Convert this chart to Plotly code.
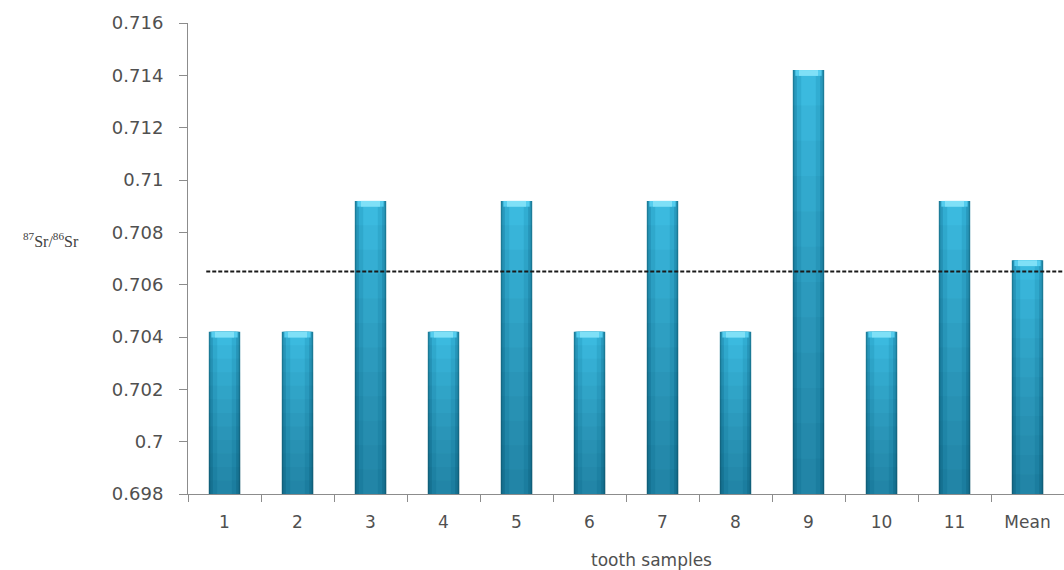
import plotly.graph_objects as go

# Strontium isotope ratio per tooth sample, plus the mean
categories = ["1", "2", "3", "4", "5", "6", "7", "8", "9", "10", "11", "Mean"]
ratios = [0.7042, 0.7042, 0.7092, 0.7042, 0.7092, 0.7042,
          0.7092, 0.7042, 0.7142, 0.7042, 0.7092, 0.70693]
reference_ratio = 0.7065

y_ticks = [0.698, 0.700, 0.702, 0.704, 0.706, 0.708, 0.710, 0.712, 0.714, 0.716]
y_tick_text = ["0.698", "0.7", "0.702", "0.704", "0.706", "0.708",
               "0.71", "0.712", "0.714", "0.716"]

BASE = 0.698
W, H = 1064, 570
ML, MR, MT, MB = 188, 0, 23, 76
plot_w = W - ML - MR
plot_h = H - MT - MB

TXT = "#505050"
FONT = "DejaVu Sans"

fig = go.Figure()

heights = [v - BASE for v in ratios]

# cylinder look: dark rim, mid body, lighter core
layers = [
    (0.43, "#1f809e"),
    (0.39, "#2a9ec2"),
    (0.32, "#33b2d8"),
    (0.20, "#3ec0e5"),
]
for w, c in layers:
    fig.add_trace(go.Bar(
        x=categories, y=heights, base=BASE, width=w,
        marker=dict(color=c, line=dict(width=0)),
        hoverinfo="skip", showlegend=False,
    ))

# darkening toward the bottom of each bar
n_shade = 12
for k in range(1, n_shade + 1):
    frac = k / n_shade
    fig.add_trace(go.Bar(
        x=categories, y=[h * frac for h in heights], base=BASE, width=0.43,
        marker=dict(color="rgba(10,60,80,0.04)", line=dict(width=0)),
        hoverinfo="skip", showlegend=False,
    ))

# light cap at the top of each cylinder
cap_h = 0.00022
for w, c in [(0.36, "#55cdee"), (0.26, "#7fe0f7")]:
    fig.add_trace(go.Bar(
        x=categories, y=[cap_h] * len(ratios), base=[v - cap_h for v in ratios],
        width=w, marker=dict(color=c, line=dict(width=0)),
        hoverinfo="skip", showlegend=False,
    ))

fig.update_layout(barmode="overlay")

# dashed reference line
fig.add_shape(type="line", xref="x", yref="y",
              x0=-0.25, x1=11.6, y0=reference_ratio, y1=reference_ratio,
              line=dict(color="#1a1a1a", width=2, dash="4px,2px"))

fig.update_xaxes(
    type="category", range=[-0.5, 11.5],
    showline=True, linecolor="#8c8c8c", linewidth=1,
    ticks="outside", tickson="boundaries", ticklen=7, tickcolor="#8c8c8c",
    tickfont=dict(family=FONT, size=17, color=TXT),
    ticklabelstandoff=13, showgrid=False, zeroline=False,
)
fig.update_yaxes(
    range=[BASE, 0.716], tickvals=y_ticks, ticktext=y_tick_text,
    showline=True, linecolor="#8c8c8c", linewidth=1,
    ticks="outside", ticklen=8, tickcolor="#8c8c8c",
    tickfont=dict(family=FONT, size=18, color=TXT),
    ticklabelstandoff=12, showgrid=False, zeroline=False,
)

fig.add_annotation(
    text="<sup>87</sup>Sr/<sup>86</sup>Sr", xref="paper", yref="paper",
    x=(51 - ML) / plot_w, y=(H - MB - 240) / plot_h,
    showarrow=False, xanchor="center", yanchor="middle",
    font=dict(family="Liberation Serif", size=16, color="#404040"),
)
fig.add_annotation(
    text="tooth samples", xref="paper", yref="paper",
    x=(651 - ML) / plot_w, y=(H - MB - 560) / plot_h,
    showarrow=False, xanchor="center", yanchor="middle",
    font=dict(family=FONT, size=17, color=TXT),
)

fig.update_layout(
    width=W, height=H,
    margin=dict(l=ML, r=MR, t=MT, b=MB),
    paper_bgcolor="white", plot_bgcolor="white",
)

fig.write_html("out.html")
